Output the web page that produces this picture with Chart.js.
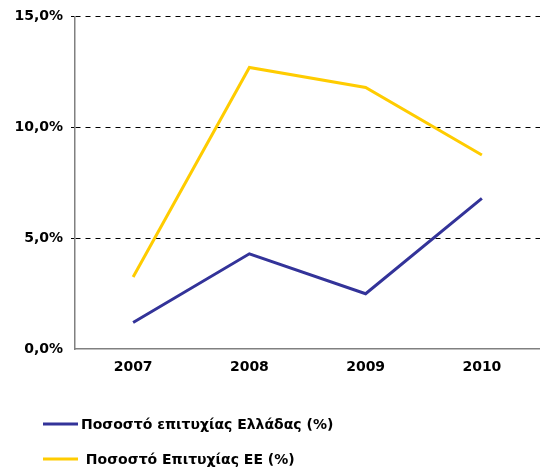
<!DOCTYPE html>
<html>
<head>
<meta charset="utf-8">
<script src="https://cdn.jsdelivr.net/npm/chart.js@4.4.1/dist/chart.umd.min.js"></script>
<style>
  html, body { margin: 0; padding: 0; background: #fff; }
  #wrap { width: 540px; height: 470px; position: relative; }
</style>
</head>
<body>
<div id="wrap"><canvas id="chart"></canvas></div>
<script>
  const years = ['2007', '2008', '2009', '2010'];
  const greeceRate = [1.2, 4.3, 2.5, 6.8];
  const euRate = [3.25, 12.7, 11.8, 8.75];
  const seriesLabels = ['Ποσοστό επιτυχίας Ελλάδας (%)', ' Ποσοστό Επιτυχίας ΕΕ (%)'];
  const seriesColors = ['#333399', '#FFCC00'];

  const FONT = "'DejaVu Sans'";

  // legend drawn under the chart, one row per series
  const stackedLegend = {
    id: 'stackedLegend',
    afterDraw(chart) {
      const ctx = chart.ctx;
      ctx.save();
      chart.data.datasets.forEach((ds, i) => {
        const y = 424 + i * 35;
        ctx.strokeStyle = ds.borderColor;
        ctx.lineWidth = 3;
        ctx.beginPath();
        ctx.moveTo(43, y);
        ctx.lineTo(78, y);
        ctx.stroke();
        ctx.fillStyle = '#000';
        ctx.font = 'bold 14px ' + FONT;
        ctx.textBaseline = 'middle';
        ctx.fillText(ds.label, 81, y + 1);
      });
      ctx.restore();
    }
  };

  new Chart(document.getElementById('chart'), {
    type: 'line',
    data: {
      labels: years,
      datasets: [
        { label: seriesLabels[0], data: greeceRate, borderColor: seriesColors[0], backgroundColor: seriesColors[0],
          borderWidth: 3, pointRadius: 0, tension: 0 },
        { label: seriesLabels[1], data: euRate, borderColor: seriesColors[1], backgroundColor: seriesColors[1],
          borderWidth: 3, pointRadius: 0, tension: 0 },
      ]
    },
    options: {
      responsive: true,
      maintainAspectRatio: false,
      animation: false,
      layout: { padding: { top: 9, right: 0, bottom: 84, left: 0 } },
      plugins: {
        legend: { display: false },
        tooltip: { enabled: false }
      },
      scales: {
        x: {
          offset: true,
          grid: { display: false, drawTicks: false },
          border: { display: true, color: '#808080', width: 1.5 },
          ticks: { color: '#000', font: { family: FONT, size: 14, weight: 'bold' }, padding: 10 }
        },
        y: {
          min: 0,
          max: 15,
          afterFit: (scale) => { scale.width = 75; },
          ticks: {
            stepSize: 5,
            color: '#000',
            padding: 8,
            font: { family: FONT, size: 14, weight: 'bold' },
            callback: (v) => v.toFixed(1).replace('.', ',') + '%'
          },
          grid: { color: (c) => c.tick.value === 0 ? 'rgba(0,0,0,0)' : '#000', lineWidth: 1, tickLength: 4 },
          border: { display: true, color: '#808080', width: 1.5, dash: [5, 5] }
        }
      }
    },
    plugins: [stackedLegend]
  });
</script>
</body>
</html>
